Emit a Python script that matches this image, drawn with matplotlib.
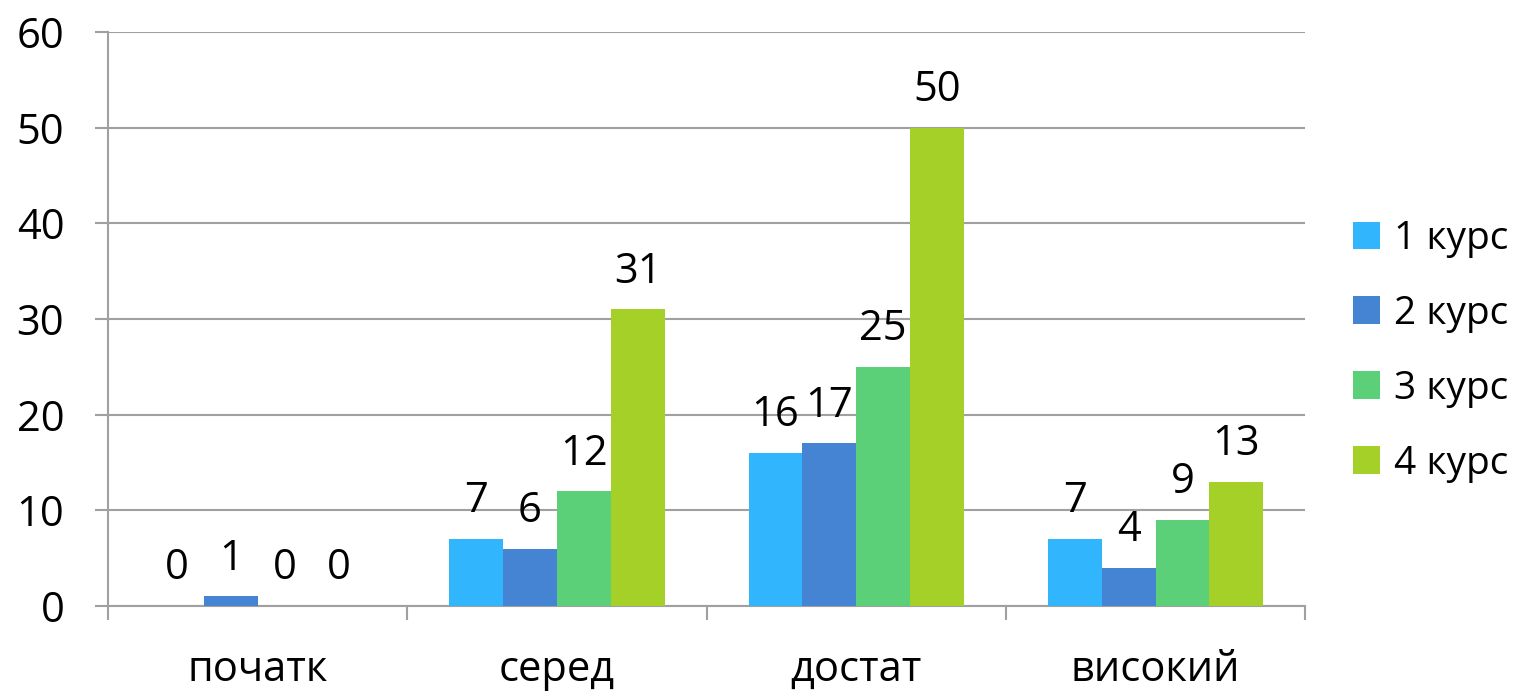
import matplotlib
matplotlib.use("Agg")
import matplotlib.pyplot as plt
import numpy as np

categories = ["початк", "серед", "достат", "високий"]
series_names = ["1 курс", "2 курс", "3 курс", "4 курс"]
values_1 = [0, 7, 16, 7]
values_2 = [1, 6, 17, 4]
values_3 = [0, 12, 25, 9]
values_4 = [0, 31, 50, 13]
colors = ["#31B6FD", "#4584D3", "#5BD078", "#A5D028"]
y_ticks = [0, 10, 20, 30, 40, 50, 60]

plt.rcParams['font.family'] = ['Open Sans', 'DejaVu Sans']
fs = 30
grid_c = "#A0A0A0"

fig = plt.figure(figsize=(15.28, 6.94), dpi=100)
ax = fig.add_axes([0.0707, 0.1268, 0.7835, 0.8271])

series = [values_1, values_2, values_3, values_4]
x = np.arange(len(categories))
bw = 0.18
for i, (vals, name, c) in enumerate(zip(series, series_names, colors)):
    pos = x + (i - 1.5) * bw
    ax.bar(pos, vals, width=bw, color=c, label=name, zorder=3)
    for p, v in zip(pos, vals):
        ax.annotate(str(v), (p, v), xytext=(0, 12), textcoords="offset points",
                    ha="center", va="bottom", fontsize=fs, color="black", zorder=4)

ax.set_xlim(-0.5, len(categories) - 0.5)
ax.set_ylim(0, 60)
ax.set_yticks(y_ticks)
ax.set_yticklabels([str(t) for t in y_ticks], fontsize=fs)
ax.yaxis.grid(True, color=grid_c, linewidth=1.5, zorder=0)
ax.set_xticks(x)
ax.set_xticklabels(categories, fontsize=fs)
ax.tick_params(axis="x", length=0, pad=31)
ax.set_xticks(np.arange(len(categories) + 1) - 0.5, minor=True)
ax.tick_params(axis="x", which="minor", length=10, width=1.5, color=grid_c)
ax.tick_params(axis="y", length=9.5, width=1.5, color=grid_c, pad=22)
for s in ["top", "right"]:
    ax.spines[s].set_visible(False)
for s in ["left", "bottom"]:
    ax.spines[s].set_color(grid_c)
    ax.spines[s].set_linewidth(1.5)

leg = ax.legend(loc="center left", bbox_to_anchor=(1.04, 0.444), frameon=False,
                fontsize=28, handlelength=0.7, handleheight=0.7, handletextpad=0.35,
                labelspacing=0.95, borderpad=0, borderaxespad=0)

fig.savefig("out.png", dpi=100)
